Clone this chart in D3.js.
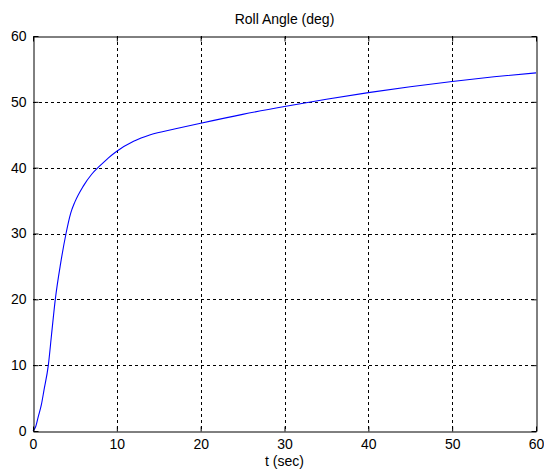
<!DOCTYPE html>
<html><head><meta charset="utf-8">
<script src="https://cdn.jsdelivr.net/npm/d3@7"></script>
<style>
body{margin:0;background:#fff;}
svg{display:block;}
text{font-family:"Liberation Sans",Arial,sans-serif;fill:#000;}
</style></head>
<body>
<svg id="c" width="544" height="470"></svg>
<script>
const timeSec = [0, 0.3, 0.63, 1.0, 1.31, 1.83, 2.2, 2.66, 3.3, 3.94, 4.5, 5.0, 6.0, 7.0, 8.0, 9.0, 10, 12, 14, 17, 20, 25, 30, 35, 40, 45, 50, 55, 60];
const rollDeg = [0, 0.6, 2.2, 4.0, 6.2, 10, 14.5, 20, 25.5, 30, 33.1, 34.8, 37.2, 39.0, 40.3, 41.5, 42.5, 44.0, 45.0, 45.9, 46.75, 48.1, 49.3, 50.4, 51.4, 52.3, 53.1, 53.8, 54.4];
const xTicks = [0, 10, 20, 30, 40, 50, 60];
const yTicks = [0, 10, 20, 30, 40, 50, 60];
const titleText = "Roll Angle (deg)";
const xLabelText = "t (sec)";

const svg = d3.select("#c");
const L = 33, R = 536, T = 36, B = 431;
const x = d3.scaleLinear().domain([0, 60]).range([L, R]);
const y = d3.scaleLinear().domain([0, 60]).range([B, T]);

// grid
const g = svg.append("g");
g.selectAll(".gx").data(xTicks.slice(1, -1)).join("line")
  .attr("x1", d => Math.round(x(d)) + 0.5).attr("x2", d => Math.round(x(d)) + 0.5)
  .attr("y1", T).attr("y2", B)
  .attr("stroke", "#000").attr("stroke-width", 1).attr("stroke-dasharray", "3,3");
g.selectAll(".gy").data(yTicks.slice(1, -1)).join("line")
  .attr("y1", d => Math.round(y(d)) + 0.5).attr("y2", d => Math.round(y(d)) + 0.5)
  .attr("x1", L).attr("x2", R)
  .attr("stroke", "#000").attr("stroke-width", 1).attr("stroke-dasharray", "3,3");

// line
const line = d3.line().x((d, i) => x(timeSec[i])).y(d => y(d)).curve(d3.curveMonotoneX);
svg.append("path").datum(rollDeg).attr("d", line)
  .attr("fill", "none").attr("stroke", "#0000ff").attr("stroke-width", 1.1);

// axes
const xa = svg.append("g").attr("transform", `translate(0,${B + 0.5})`)
  .call(d3.axisBottom(x).tickValues(xTicks).tickSizeInner(-5).tickSizeOuter(0).tickPadding(10));
const xt = svg.append("g").attr("transform", `translate(0,${T + 0.5})`)
  .call(d3.axisTop(x).tickValues(xTicks).tickSizeInner(-5).tickSizeOuter(0).tickFormat(""));
const ya = svg.append("g").attr("transform", `translate(${L + 0.5},0)`)
  .call(d3.axisLeft(y).tickValues(yTicks).tickSizeInner(-5).tickSizeOuter(0).tickPadding(7));
const yr = svg.append("g").attr("transform", `translate(${R + 0.5},0)`)
  .call(d3.axisRight(y).tickValues(yTicks).tickSizeInner(-5).tickSizeOuter(0).tickFormat(""));
[xa, xt, ya, yr].forEach(a => {
  a.selectAll("path").attr("stroke", "#000");
  a.selectAll("line").attr("stroke", "#000");
  a.selectAll("text").attr("font-size", 14).attr("font-family", '"Liberation Sans",Arial,sans-serif').attr("fill", "#000");
});
xa.selectAll("text").attr("dy", null).attr("y", 17);

svg.append("text").attr("x", (L + R) / 2).attr("y", 24).attr("text-anchor", "middle")
  .attr("font-size", 14).text(titleText);
svg.append("text").attr("x", (L + R) / 2).attr("y", 466).attr("text-anchor", "middle")
  .attr("font-size", 14).text(xLabelText);
</script>
</body></html>
